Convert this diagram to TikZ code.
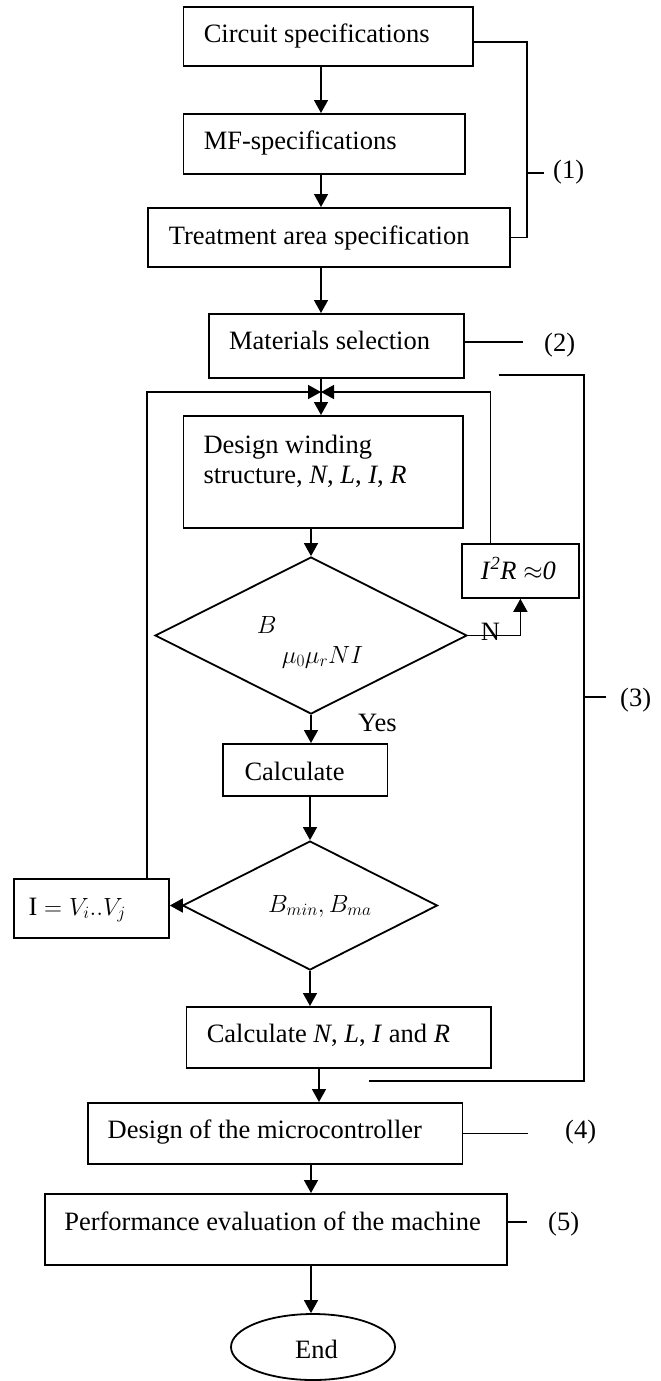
\documentclass[tikz,border=0pt]{standalone}
\usepackage{fontspec}
\setmainfont{Liberation Serif}
\usetikzlibrary{arrows.meta,shapes.geometric}
\begin{document}
\begin{tikzpicture}[x=1pt,y=-1pt, font=\fontsize{26.5}{30}\selectfont,
  box/.style={draw, line width=1.8pt, inner sep=0pt, anchor=north west},
  dia/.style={draw, diamond, line width=1.8pt, inner sep=0pt},
  txt/.style={inner sep=0pt, anchor=base west},
  arr/.style={line width=1.5pt, -{Triangle[length=13pt,width=14pt]}},
  ln/.style={line width=1.5pt}]
\useasboundingbox (0,0) rectangle (661,1381);
% boxes
\node[box, minimum width=289.3pt, minimum height=59pt] (b1) at (182.5,6) {};
\node[box, minimum width=281.2pt, minimum height=60pt] (b2) at (182.5,113) {};
\node[box, minimum width=361.8pt, minimum height=59pt] (b3) at (147.1,207) {};
\node[box, minimum width=255.5pt, minimum height=64pt] (b4) at (207.8,313) {};
\node[box, minimum width=279.2pt, minimum height=112pt] (b5) at (182.5,415) {};
\node[dia, minimum width=312pt, minimum height=157pt] (d1) at (311,635.5) {};
\node[box, minimum width=117pt, minimum height=54pt] (irr) at (461,543) {};
\node[box, minimum width=164.4pt, minimum height=52pt] (c1) at (222.2,743) {};
\node[dia, minimum width=255pt, minimum height=129pt] (d2) at (310,905.5) {};
\node[box, minimum width=155.3pt, minimum height=59pt] (ib) at (12.7,878) {};
\node[box, minimum width=304.8pt, minimum height=61pt] (c2) at (185.5,1006) {};
\node[box, minimum width=374.8pt, minimum height=61pt] (b6) at (86.8,1102) {};
\node[box, minimum width=461.6pt, minimum height=71pt] (b7) at (44.3,1193) {};
\node[draw, ellipse, line width=1.8pt, inner sep=0pt, minimum width=164pt, minimum height=66pt] (e) at (313,1347) {};
% texts
\node[txt] (t1) at (203.6,43) {Circuit specifications};
\node[txt] (t2) at (203.6,149) {MF-specifications};
\node[txt] (t3) at (168.6,244) {Treatment area specification};
\node[txt] (t4) at (228.9,349) {Materials selection};
\node[txt] (t5a) at (203.3,453) {Design winding};
\node[txt] (t5b) at (203.3,483) {structure, \textit{N}, \textit{L}, \textit{I}, \textit{R}};
\node[txt] (tB) at (256.7,633) {$B$};
\node[txt] (tmu) at (281.7,663) {$\mu_0\mu_r NI$};
\node[txt] (tN) at (480.6,640) {N};
\node[txt] (tirr) at (480.6,579) {\textit{I}\textsuperscript{\textit{2}}\textit{R} $\approx$\textit{0}};
\node[txt] (tyes) at (358,731) {Yes};
\node[txt] (tc1) at (244.3,780) {Calculate};
\node[txt] (tbm) at (268,912) {$B_{min}, B_{ma}$};
\node[txt] (tib) at (28.3,915) {$\mathrm{I} = V_i{.}{.}V_j$};
\node[txt] (tc2) at (206.6,1042) {Calculate \textit{N}, \textit{L}, \textit{I} and \textit{R}};
\node[txt] (t6) at (107.5,1138) {Design of the microcontroller};
\node[txt] (t7) at (64.1,1230) {Performance evaluation of the machine};
\node[txt] (te) at (295,1358) {End};
\node[txt] (l1) at (553,178) {(1)};
\node[txt] (l2) at (544,351) {(2)};
\node[txt] (l3) at (620,706) {(3)};
\node[txt] (l4) at (565,1138) {(4)};
\node[txt] (l5) at (548,1230) {(5)};
% connectors
\coordinate (m) at (321,392);
\coordinate (rv) at (490.3,0);
\coordinate (lv) at (147.1,0);
\coordinate (cx) at (319,0);
\draw[arr] (b1.south -| m) -- (b2.north -| m);
\draw[arr] (b2.south -| m) -- (b3.north -| m);
\draw[arr] (b3.south -| m) -- (b4.north -| m);
\draw[ln] (b4.south -| m) -- (m);
\draw[arr] (m) -- (b5.north -| m);
\draw[arr] (d1.north |- b5.south) -- (d1.north);
\draw[arr] (d1.east) -| (irr.south);
\draw[arr] (irr.north -| rv) |- (m);
\draw[arr] (d1.south) -- (d1.south |- c1.north);
\draw[arr] (c1.south -| d2.north) -- (d2.north);
\draw[arr] (d2.west) -- (d2.west -| ib.east);
\draw[arr] (ib.north -| lv) |- (m);
\draw[arr] (d2.south) -- (d2.south |- c2.north);
\draw[arr] (c2.south -| cx) -- (b6.north -| cx);
\draw[arr] (b6.south -| d1.south) -- (b7.north -| d1.south);
\draw[arr] (b7.south -| d1.south) -- (e.north -| d1.south);
% brackets and ticks
\coordinate (k1) at (527,42);
\coordinate (k1t) at (543.8,173);
\draw[ln] (b1.east |- k1) -- (k1) -- (k1 |- b3.east) -- (b3.east);
\draw[ln] (k1 |- k1t) -- (k1t);
\coordinate (k2) at (522.8,342);
\draw[ln] (b4.east |- k2) -- (k2);
\coordinate (k3a) at (498.7,375);
\coordinate (k3) at (583.9,375);
\coordinate (k3b) at (583.9,1081);
\coordinate (k3c) at (369.3,1081);
\coordinate (k3t) at (606,697);
\draw[ln] (k3a) -- (k3) -- (k3b) -- (k3c);
\draw[ln] (k3 |- k3t) -- (k3t);
\coordinate (k4) at (528.2,0);
\draw[ln] (b6.east) -- (b6.east -| k4);
\coordinate (k5) at (527,1222);
\draw[ln] (b7.east |- k5) -- (k5);
\end{tikzpicture}
\end{document}
